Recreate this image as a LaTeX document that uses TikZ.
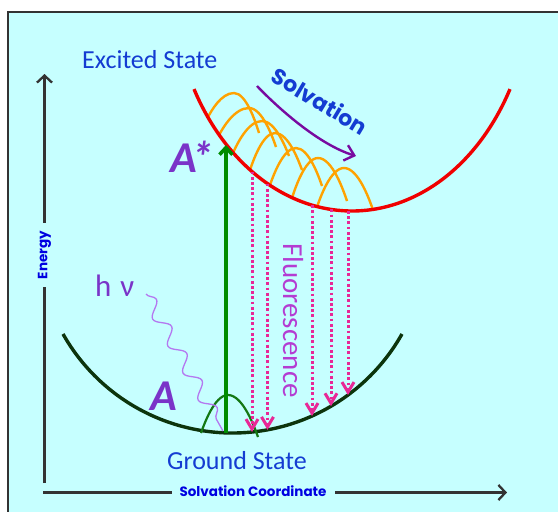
\documentclass[tikz,border=0pt]{standalone}
\usepackage{fontspec}
\setmainfont{Carlito}
\newfontfamily\popfont{Poppins}
\usetikzlibrary{arrows.meta,decorations.pathmorphing}
\definecolor{bgcyan}{RGB}{198,255,255}
\definecolor{framegray}{RGB}{51,51,51}
\definecolor{labelblue}{RGB}{20,60,210}
\definecolor{axisblue}{RGB}{0,0,225}
\definecolor{exred}{RGB}{240,0,0}
\definecolor{gdgreen}{RGB}{12,52,12}
\definecolor{vibgreen}{RGB}{20,120,20}
\definecolor{absgreen}{RGB}{0,140,0}
\definecolor{arcorange}{RGB}{255,162,0}
\definecolor{fpink}{RGB}{232,40,150}
\definecolor{fpurple}{RGB}{180,60,210}
\definecolor{apurple}{RGB}{122,52,200}
\definecolor{wavepurple}{RGB}{180,120,240}
\definecolor{solvpurple}{RGB}{120,10,160}
\tikzset{
  axisline/.style={draw=framegray,line width=2.3pt,-{Straight Barb[length=7pt,width=15pt,line width=2.3pt]}},
  axislabel/.style={text=axisblue,fill=bgcyan,inner xsep=8pt,inner ysep=1pt,font=\popfont\bfseries\fontsize{13.5}{13.5}\selectfont},
  statelabel/.style={text=labelblue,inner sep=0pt,anchor=base west,font=\fontsize{26}{26}\selectfont},
  redcurve/.style={draw=exred,line width=3.4pt},
  groundcurve/.style={draw=gdgreen,line width=3.4pt},
  vibarc/.style={draw=arcorange,line width=2.4pt},
  fluo/.style={draw=fpink,line width=3pt,line cap=butt,dash pattern=on 2.8pt off 2.4pt,
     -{Straight Barb[length=10pt,width=12pt,line width=3pt]}},
  bigA/.style={text=apurple,inner sep=0pt,anchor=base west,font=\fontsize{44}{44}\selectfont\bfseries\itshape},
}
\begin{document}
\begin{tikzpicture}[x=1pt,y=-1pt]
\useasboundingbox (0,0) rectangle (558,512);
\fill[white] (0,0) rectangle (558,512);
\fill[bgcyan] (8,12) rectangle (558,512);
\draw[framegray,line width=2pt] (8,512) -- (8,12) -- (558,12);
% axes
\coordinate (yb) at (44.5,483);
\coordinate (yt) at (44.5,74);
\coordinate (xl) at (43,492.5);
\coordinate (xr) at (507,492.5);
\draw[axisline] (yb) -- (yt);
\draw[axisline] (xl) -- (xr);
\node[axislabel,rotate=90] (energy) at (44.5,255) {Energy};
\node[axislabel] (coord) at (253,491) {Solvation Coordinate};
% state labels
\node[statelabel] (excited) at (82,68) {Excited State};
\node[statelabel] (ground) at (167,469) {Ground State};
% ground state curve
\draw[groundcurve] plot[domain=-169.5:169.5,samples=120] ({232.5+\x},{238.4+194.6*sqrt(1-(\x/194.6)^2)});
\draw[draw=vibgreen,line width=2.2pt] (201,433) parabola bend (228,395) (258,437);
% photon
\coordinate (hs) at (146,294);
\coordinate (he) at (223,431);
\draw[wavepurple,line width=1.3pt,decorate,decoration={snake,segment length=31pt,amplitude=6.5pt}] (hs) -- (he);
\node[text=apurple,inner sep=0pt,anchor=base west,font=\fontsize{31}{31}\selectfont] (hnu) at (95,296) {h\kern9pt ν};
% vibrational arcs in excited state
\draw[vibarc] (208,117) parabola bend (234,93) (259,133);
\draw[vibarc] (219,135) parabola bend (249,108) (276,147);
\draw[vibarc] (233,153) parabola bend (262,121) (289,156);
\draw[vibarc] (250,170) parabola bend (275,133) (302,170);
\draw[vibarc] (270,185) parabola bend (296,148) (322,186);
\draw[vibarc] (292,198) parabola bend (318,158) (347,201);
\draw[vibarc] (317,207) parabola bend (344,168) (373,210);
% excited state curve
\draw[redcurve] plot[domain=-158:158,samples=120] ({352+\x},{-23+234*sqrt(1-(\x/180)^2)});
% fluorescence arrows
\foreach \i/\px/\ya/\yb in {1/252/171.6/432.0,2/267.5/183.6/429.8,3/312/205.2/416.0,4/331/209.4/406.2,5/348/211/395.0}{
  \coordinate (f\i s) at (\px,\ya);
  \coordinate (f\i e) at (\px,\yb);
  \draw[fluo] (f\i s) -- (f\i e);
}
\node[text=fpurple,inner sep=0pt,anchor=base west,rotate=-90,font=\fontsize{29}{29}\selectfont] (fluor) at (283,243) {Fluorescence};
% absorption arrow
\coordinate (ga) at (226,433);
\coordinate (ea) at (226,145);
\draw[draw=absgreen,line width=3.6pt,-{Straight Barb[length=7pt,width=13pt,line width=3.6pt]}] (ga) -- (ea);
% labels A and A*
\node[bigA] (A) at (150,410) {A};
\node[bigA] (Astar) at (170,172) {A\kern-5pt*};
% solvation
\coordinate (sa) at (257,86);
\coordinate (sb) at (356,156);
\draw[draw=solvpurple,line width=2.4pt,-{Straight Barb[length=9pt,width=16pt,line width=2.4pt]}] (sa) .. controls (280,110) and (320,145) .. (sb);
\node[text=labelblue,rotate=-31,inner sep=0pt,font=\popfont\bfseries\fontsize{22}{22}\selectfont] (solv) at (320,101) {Solvation};
\end{tikzpicture}
\end{document}
